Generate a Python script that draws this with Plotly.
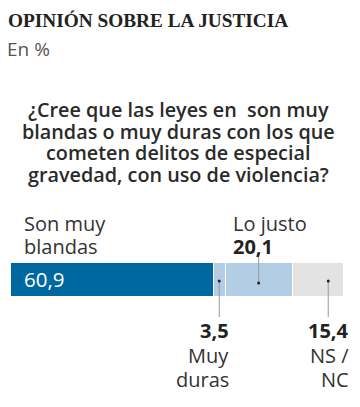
import plotly.graph_objects as go

# ---- data ----
categories = ["Son muy blandas", "Muy duras", "Lo justo", "NS / NC"]
values = [60.9, 3.5, 20.1, 15.4]
value_labels = ["60,9", "3,5", "20,1", "15,4"]
colors = ["#0068a1", "#b3cde4", "#b3cde4", "#e3e3e3"]

title = "OPINIÓN SOBRE LA JUSTICIA"
subtitle = "En %"
question_lines = [
    "¿Cree que las leyes en  son muy",
    "blandas o muy duras con los que",
    "cometen delitos de especial",
    "gravedad, con uso de violencia?",
]

W, H = 360, 407
BAR_L, BAR_R = 10, 344
BAR_T, BAR_B = 262, 296
SANS = "Open Sans"

def py(px):
    return 1 - px / H

def pxx(px):
    return px / W

total = 100.0

fig = go.Figure()
for cat, v, c in zip(categories, values, colors):
    fig.add_trace(go.Bar(
        x=[v], y=[0], orientation="h", name=cat,
        marker=dict(color=c, line=dict(color="white", width=1)),
        width=1, hoverinfo="skip", showlegend=False,
    ))

starts = []
acc = 0
for v in values:
    starts.append(acc)
    acc += v

anns = []
def ann(text, x_px, base_px, size, anchor="left", color="#333", family=SANS, weight=400):
    anns.append(dict(
        text=text, xref="paper", yref="paper", x=pxx(x_px), y=py(base_px - 0.36 * size),
        xanchor=anchor, yanchor="middle", showarrow=False,
        font=dict(family=family, size=size, color=color, weight=weight),
    ))

ann(title, 6, 27, 19.3, color="#222", family="Liberation Serif", weight=700)
ann(subtitle, 5, 55.5, 19, color="#555")
for i, line in enumerate(question_lines):
    anns.append(dict(
        text=line, xref="paper", yref="paper", x=pxx(178), y=py(116.7 + i * 21.7 - 0.36 * 19.8),
        xanchor="center", yanchor="middle", showarrow=False, borderpad=0,
        font=dict(family=SANS, size=19.8, color="#2a2a2a", weight=600),
    ))

ann("Son muy", 22, 231, 20)
ann("blandas", 22, 254, 20)
ann(value_labels[0], 22, 286, 20.5, color="white")
ann(categories[2], 231, 231, 20)
ann(value_labels[2], 231, 254, 20, color="#222", weight=700)
ann(value_labels[1], 231, 338, 20, anchor="right", color="#222", weight=700)
ann("Muy", 231, 363, 20, anchor="right")
ann("duras", 231, 387, 20, anchor="right")
ann(value_labels[3], 351, 338, 20, anchor="right", color="#222", weight=700)
ann("NS /", 351, 363, 20, anchor="right")
ann("NC", 351, 387, 20, anchor="right")

# leader lines and dots
leader_pos = [starts[1] + values[1] * 0.5, starts[2] + values[2] * 0.5, starts[3] + values[3] * 0.7]
leader_y = [(281, 317), (255, 283), (281, 317)]
dot_y = [281, 283, 281]
shapes = []
for xv, (y0, y1), dy in zip(leader_pos, leader_y, dot_y):
    shapes.append(dict(type="line", xref="x", yref="paper", x0=xv, x1=xv,
                       y0=py(y0), y1=py(y1), line=dict(color="#999", width=1)))
    shapes.append(dict(type="circle", xref="x", yref="paper", xsizemode="pixel", ysizemode="pixel",
                       xanchor=xv, yanchor=py(dy), x0=-1.5, x1=1.5, y0=-1.5, y1=1.5,
                       fillcolor="#222", line=dict(width=0)))

fig.update_layout(
    width=W, height=H, barmode="stack",
    margin=dict(l=0, r=0, t=0, b=0, autoexpand=False),
    paper_bgcolor="white", plot_bgcolor="white",
    xaxis=dict(range=[0, total], domain=[BAR_L / W, BAR_R / W], visible=False, fixedrange=True),
    yaxis=dict(range=[-0.5, 0.5], domain=[py(BAR_B), py(BAR_T)], visible=False, fixedrange=True),
    annotations=anns, shapes=shapes,
)
fig.write_html("out.html", config={"displayModeBar": False},
               post_script="document.body.style.margin='0';document.body.style.overflow='hidden';")
